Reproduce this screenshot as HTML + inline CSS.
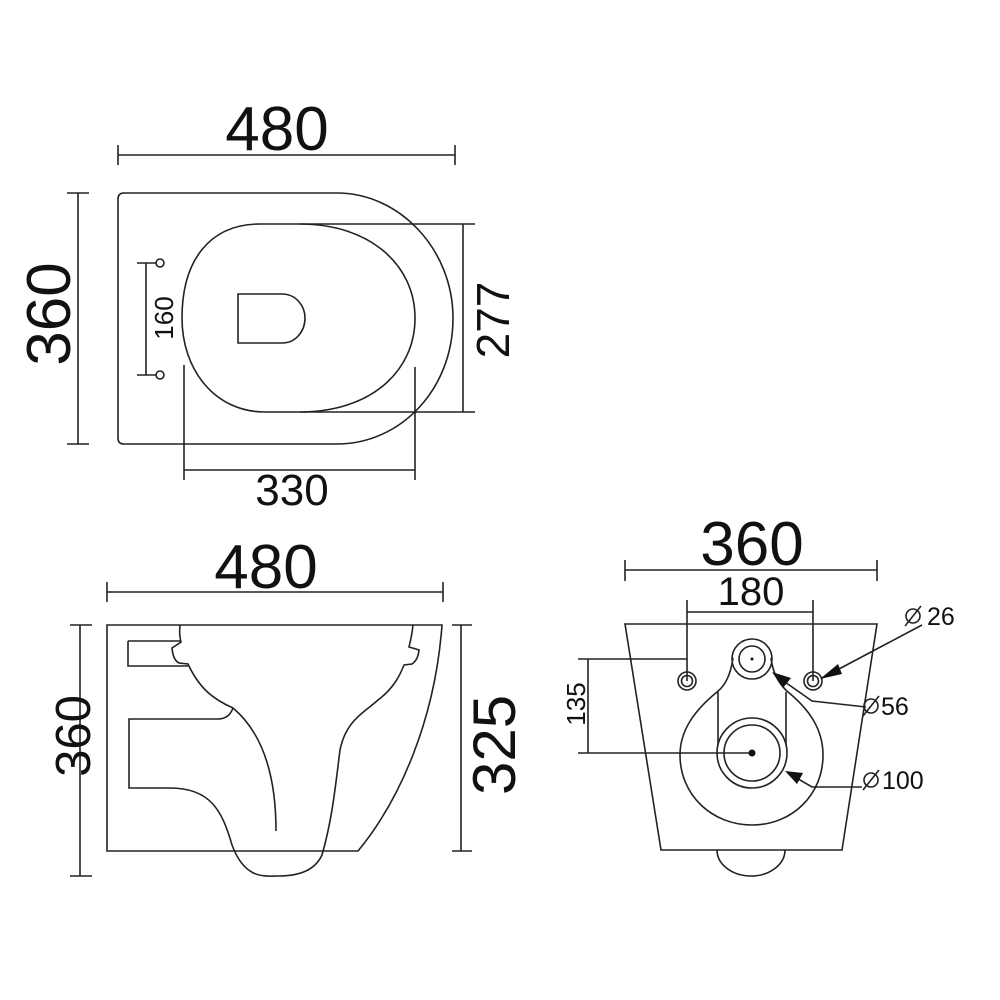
<!DOCTYPE html>
<html><head><meta charset="utf-8"><style>
html,body{margin:0;padding:0;background:#fff;}
svg{display:block}
text{font-family:"Liberation Sans",sans-serif;fill:#111}
</style></head><body>
<svg width="1000" height="1000" viewBox="0 0 1000 1000" xmlns="http://www.w3.org/2000/svg">
<g fill="none" stroke="#222" stroke-width="1.6">
<!-- TOP VIEW -->
<line x1="118" y1="155" x2="455" y2="155"/>
<line x1="118" y1="145" x2="118" y2="165"/><line x1="455" y1="145" x2="455" y2="165"/>
<line x1="78" y1="193" x2="78" y2="444"/>
<line x1="67" y1="193" x2="89" y2="193"/><line x1="67" y1="444" x2="89" y2="444"/>
<path d="M124,193 H337 C400,193 453,250 453,318 C453,390 400,444 337,444 H124 Q118,444 118,438 V199 Q118,193 124,193 Z"/>
<path d="M260,224 H300 C370,224 415,265 415,318 C415,372 370,412 300,412 H265 C215,412 182,370 182,318 C182,260 210,224 260,224 Z"/>
<line x1="300" y1="224" x2="475" y2="224"/>
<line x1="300" y1="412" x2="475" y2="412"/>
<line x1="463" y1="224" x2="463" y2="412"/>
<path d="M238,294 H282 C296,294 305,306 305,318 C305,331 296,343 282,343 H238 Z"/>
<line x1="146" y1="263" x2="146" y2="375"/>
<line x1="137" y1="263" x2="156" y2="263"/><line x1="137" y1="375" x2="156" y2="375"/>
<circle cx="160" cy="263" r="4"/><circle cx="160" cy="375" r="4"/>
<line x1="184" y1="365" x2="184" y2="480"/><line x1="415" y1="367" x2="415" y2="480"/>
<line x1="184" y1="470" x2="415" y2="470"/>

<!-- SIDE VIEW -->
<line x1="107" y1="592" x2="443" y2="592"/>
<line x1="107" y1="582" x2="107" y2="602"/><line x1="443" y1="582" x2="443" y2="602"/>
<line x1="80" y1="625" x2="80" y2="876"/>
<line x1="70" y1="625" x2="92" y2="625"/><line x1="70" y1="876" x2="92" y2="876"/>
<line x1="461" y1="625" x2="461" y2="851"/>
<line x1="452" y1="625" x2="472" y2="625"/><line x1="452" y1="851" x2="472" y2="851"/>
<path d="M107,625 H442 C435,720 400,800 358,851 H107 Z"/>
<path d="M180,625 Q179,635 181,642 L172,648 Q173,660 179,663 L188,664 C200,690 215,700 233,708 C265,735 276,780 276,831"/>
<path d="M128,641 H181 M128,641 V666 H188"/>
<path d="M233,708 Q229,719 218,719 H129 V788 H170 C210,788 222,810 232,845 C245,880 265,876 278,876 C300,876 315,870 322,855 C332,820 335,790 340,750 C346,720 365,712 378,700 C394,688 400,675 404,665 L412,664 Q418,660 419,650 L409,647 Q412,635 413,625"/>

<!-- FRONT VIEW -->
<line x1="625" y1="570" x2="877" y2="570"/>
<line x1="625" y1="560" x2="625" y2="581"/><line x1="877" y1="560" x2="877" y2="581"/>
<line x1="687" y1="612" x2="813" y2="612"/>
<line x1="687" y1="600" x2="687" y2="681"/><line x1="813" y1="600" x2="813" y2="681"/>
<line x1="578" y1="659" x2="687" y2="659"/>
<line x1="578" y1="753" x2="752" y2="753"/>
<line x1="588" y1="659" x2="588" y2="753"/>
<path d="M625,624 H877 L842,850 H661 Z"/>
<path d="M717,850 A34,26 0 0,0 785,850"/>
<circle cx="687" cy="681" r="9"/><circle cx="687" cy="681" r="5.5"/>
<circle cx="813" cy="681" r="9"/><circle cx="813" cy="681" r="5.5"/>
<circle cx="752" cy="659" r="20"/><circle cx="752" cy="659" r="13"/>
<circle cx="752" cy="753" r="35"/><circle cx="752" cy="753" r="28"/>
<path d="M733,658 C730,680 722,688 717,692 C695,710 680,730 680,755 C680,795 712,825 752,825 C792,825 823,795 823,755 C823,730 810,710 788,692 C780,685 773,675 771,658"/>
<line x1="718" y1="692" x2="718" y2="745"/><line x1="786" y1="692" x2="786" y2="745"/>
<path d="M922,625 L822,678"/>
<path d="M866,707 L812,701 L775,675"/>
<path d="M862,787 L812,787 L788,773"/>
<!-- diameter symbols -->
<circle cx="913" cy="616" r="7"/><line x1="905" y1="626" x2="921" y2="606"/>
<circle cx="871" cy="706" r="7"/><line x1="863" y1="716" x2="879" y2="696"/>
<circle cx="871" cy="780" r="7"/><line x1="863" y1="790" x2="879" y2="770"/>
</g>
<g fill="#111">
<circle cx="752" cy="659" r="1.5"/><circle cx="752" cy="753" r="3.5"/>
<polygon points="820,679 838,664 842,674"/>
<polygon points="772,672 791,678 783,688"/>
<polygon points="785,771 803,773 797,784"/>
</g>
<g>
<text x="277" y="150" font-size="62" text-anchor="middle">480</text>
<text x="0" y="0" font-size="62" text-anchor="middle" transform="translate(70,314) rotate(-90)">360</text>
<text x="0" y="0" font-size="46" text-anchor="middle" transform="translate(509,320) rotate(-90)">277</text>
<text x="0" y="0" font-size="26" text-anchor="middle" transform="translate(173,318) rotate(-90)">160</text>
<text x="292" y="505" font-size="44" text-anchor="middle">330</text>
<text x="266" y="588" font-size="62" text-anchor="middle">480</text>
<text x="0" y="0" font-size="49" text-anchor="middle" transform="translate(90,736) rotate(-90)">360</text>
<text x="0" y="0" font-size="60" text-anchor="middle" transform="translate(515,745) rotate(-90)">325</text>
<text x="752" y="565" font-size="62" text-anchor="middle">360</text>
<text x="751" y="605" font-size="40" text-anchor="middle">180</text>
<text x="0" y="0" font-size="26" text-anchor="middle" transform="translate(585,704) rotate(-90)">135</text>
<text x="927" y="625" font-size="25">26</text>
<text x="881" y="715" font-size="25">56</text>
<text x="882" y="789" font-size="25">100</text>
</g>
</svg>
</body></html>
